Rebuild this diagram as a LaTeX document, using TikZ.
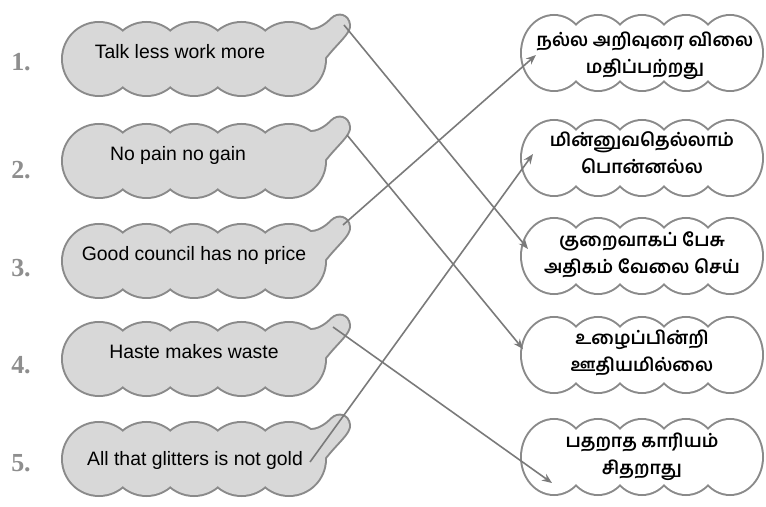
\documentclass[tikz,border=0pt]{standalone}
\usepackage{fontspec}
\setmainfont{Liberation Sans}
\newfontfamily\tamilfont[Script=Tamil]{Hind Madurai}
\newfontfamily\numfont{Liberation Serif}
\usetikzlibrary{arrows.meta}
\definecolor{bubblegray}{HTML}{D8D8D8}
\definecolor{edgegray}{HTML}{8A8A8A}
\definecolor{linkgray}{HTML}{7A7A7A}
\definecolor{numgray}{HTML}{8E8E8E}
\tikzset{
  proverb/.style={font=\fontsize{9.7}{11}\selectfont},
  meaning/.style={font=\tamilfont\bfseries\fontsize{9.1}{13.5}\selectfont, align=center},
  number/.style={font=\numfont\bfseries\fontsize{13}{15}\selectfont, text=numgray},
  rim/.style={draw=edgegray, line width=2pt},
  link/.style={draw=linkgray, line width=0.8pt, -{Stealth[length=5pt,width=4pt]}},
}
\begin{document}
\begin{tikzpicture}[x=0.5pt,y=-0.5pt]
  \useasboundingbox (0,0) rectangle (766,507);
  % left bubbles with tails
  \foreach \cy in {59,161,261,359,459} {
    \begin{scope}[shift={(0,\cy)}]
      \foreach \i in {0,...,4}
        \draw[rim] (99+47.5*\i,0) circle (36);
      \draw[rim] (308,-29) .. controls (318,-28) and (326,-34) .. (332,-40)
        .. controls (338,-46) and (348,-44) .. (349,-34)
        .. controls (350,-26) and (336,-16) .. (324,0) -- (300,0) -- cycle;
      \foreach \i in {0,...,4}
        \fill[bubblegray] (99+47.5*\i,0) circle (36);
      \fill[bubblegray] (308,-29) .. controls (318,-28) and (326,-34) .. (332,-40)
        .. controls (338,-46) and (348,-44) .. (349,-34)
        .. controls (350,-26) and (336,-16) .. (324,0) -- (300,0) -- cycle;
    \end{scope}
  }
  % right bubbles
  \foreach \cy in {53,158,256,355,457} {
    \foreach \i in {0,...,4}
      \draw[rim] (554+44*\i,\cy) ellipse (32 and 37);
    \foreach \i in {0,...,4}
      \fill[white] (554+44*\i,\cy) ellipse (32 and 37);
  }
  % numbers
  \node[number] (n1) at (21,62) {1.};
  \node[number] (n2) at (21,170) {2.};
  \node[number] (n3) at (21,268) {3.};
  \node[number] (n4) at (21,365) {4.};
  \node[number] (n5) at (21,463) {5.};
  % proverbs
  \node[proverb] (talk) at (180,52) {Talk less work more};
  \node[proverb] (pain) at (178,155) {No pain no gain};
  \node[proverb] (council) at (194,255) {Good council has no price};
  \node[proverb] (haste) at (194,352) {Haste makes waste};
  \node[proverb] (glitter) at (195,460) {All that glitters is not gold};
  % meanings
  \node[meaning] (advice) at (645,56) {நல்ல அறிவுரை விலை\\மதிப்பற்றது};
  \node[meaning] (gold) at (642,153) {மின்னுவதெல்லாம்\\பொன்னல்ல};
  \node[meaning] (speak) at (642,255) {குறைவாகப் பேசு\\அதிகம் வேலை செய்};
  \node[meaning] (effort) at (642,353) {உழைப்பின்றி\\ஊதியமில்லை};
  \node[meaning] (hurry) at (642,457) {பதறாத காரியம்\\சிதறாது};
  % link ends
  \coordinate (talk-tail) at (344,25);
  \coordinate (pain-tail) at (347,135);
  \coordinate (council-tail) at (343,225);
  \coordinate (haste-tail) at (333,327);
  \coordinate (glitter-tail) at (310,462);
  \coordinate (advice-in) at (536,55);
  \coordinate (gold-in) at (533,154);
  \coordinate (speak-in) at (528,249);
  \coordinate (effort-in) at (523,349);
  \coordinate (hurry-in) at (552,483);
  \begin{scope}[link]
    \draw (talk-tail) to (speak-in);
    \draw (pain-tail) to (effort-in);
    \draw (council-tail) to (advice-in);
    \draw (haste-tail) to (hurry-in);
    \draw (glitter-tail) to (gold-in);
  \end{scope}
\end{tikzpicture}
\end{document}
